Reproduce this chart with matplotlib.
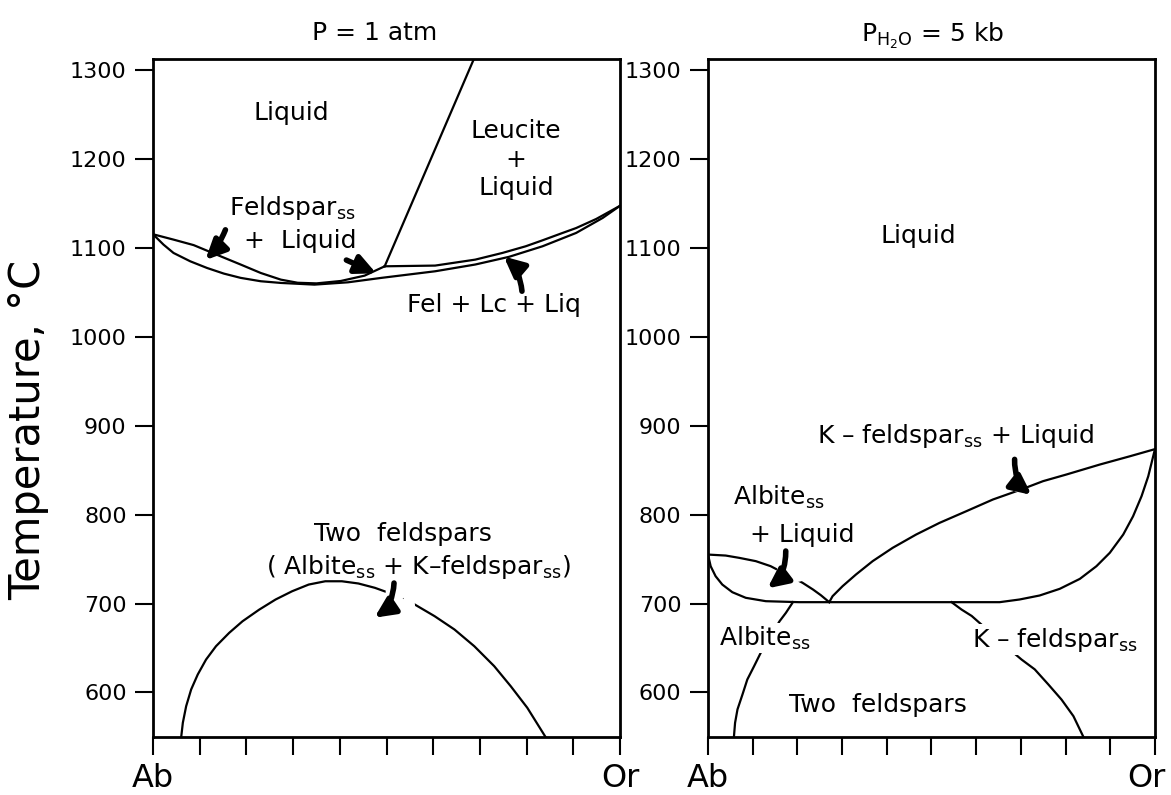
import matplotlib.pyplot as plt
import matplotlib.transforms as mtransforms

# datos (x = fracción de Or, T en °C)
# P = 1 atm
liq1_x = [0.0, 0.0438, 0.087, 0.1444, 0.1875, 0.2306, 0.2737, 0.3096, 0.35, 0.402, 0.453, 0.496]
liq1_t = [1115, 1109, 1102.8, 1090.3, 1081, 1071.5, 1064, 1060.5, 1059.8, 1062.5, 1068.5, 1079]
sol1_x = [0.0, 0.0223, 0.0438, 0.0797, 0.1157, 0.1516, 0.1875, 0.2306, 0.2737, 0.3455, 0.4174,
          0.4892, 0.604, 0.69, 0.762, 0.834, 0.906, 0.963, 1.0]
sol1_t = [1115, 1103.4, 1094, 1084.6, 1077.1, 1070.8, 1066, 1062.2, 1060.3, 1058.4, 1061,
          1066, 1073.4, 1081, 1089.6, 1101.5, 1116.5, 1133.4, 1147]
lc_x = [0.496, 0.604, 0.69, 0.748, 0.798, 0.834, 0.877, 0.906, 0.949, 1.0]
lc_t = [1079, 1079.8, 1086.5, 1094, 1101.5, 1108.2, 1116.5, 1122, 1132.2, 1147]
lcout_x = [0.496, 0.687]
lcout_t = [1079, 1312]
solv1_x = [0.0603, 0.0638, 0.0709, 0.0816, 0.0957, 0.1135, 0.1348, 0.163, 0.1915, 0.227, 0.2624,
           0.2979, 0.3333, 0.3688, 0.4043, 0.4397, 0.4752, 0.5248, 0.5603, 0.6028, 0.6454, 0.6879,
           0.7305, 0.766, 0.8014, 0.8404]
solv1_t = [550, 566, 584.6, 603.4, 620.2, 637, 652, 667, 680, 693, 704.5,
           713.8, 721.3, 725, 725, 722.5, 717.6, 708.2, 698.9, 685.8, 670.8, 652,
           629.6, 607, 582.8, 550]

# P H2O = 5 kb
liqab_x = [0.0, 0.0396, 0.07, 0.107, 0.14, 0.19, 0.2115, 0.235, 0.2526, 0.2713]
liqab_t = [755, 753.9, 751.3, 747.6, 742, 728.9, 723.3, 715.7, 709.3, 701.5]
liqor_x = [0.2713, 0.2787, 0.3012, 0.3311, 0.3684, 0.4133, 0.4656, 0.5179, 0.5778, 0.6375,
           0.7, 0.7496, 0.802, 0.8767, 0.944, 1.0]
liqor_t = [701.5, 708.2, 719.5, 732.6, 747.6, 762.6, 777.5, 790.6, 803.7, 816.9,
           828, 837.5, 845, 856.2, 865.5, 873.5]
sol2_x = [0.0, 0.006, 0.017, 0.032, 0.0545, 0.0845, 0.1294, 0.204, 0.6525, 0.697, 0.742, 0.787,
          0.832, 0.869, 0.899, 0.929, 0.951, 0.970, 0.985, 1.0]
sol2_t = [755, 741.9, 730.7, 721.3, 712.7, 706.4, 702.6, 701.5, 701.5, 704.5, 709, 716.5,
          727.7, 741.9, 757, 777.5, 798, 820.6, 843, 873.5]
solvab_x = [0.19, 0.1743, 0.16, 0.118, 0.1032, 0.088, 0.0772, 0.066, 0.0606, 0.058]
solvab_t = [701.5, 689.5, 680, 644.6, 629.6, 614.6, 597.8, 581, 565.9, 550]
solvor_x = [0.545, 0.567, 0.59, 0.675, 0.7016, 0.731, 0.7615, 0.791, 0.8176, 0.84]
solvor_t = [701.5, 693.3, 686, 648.3, 637, 626, 609, 592, 573.4, 550]

yticks = [600, 700, 800, 900, 1000, 1100, 1200, 1300]
xticks = [i / 10 for i in range(11)]
xlabels = ['Ab'] + [''] * 9 + ['Or']

ss = r'$_{\mathrm{ss}}$'

fig = plt.figure(figsize=(11.71, 7.95), dpi=100)
ax1 = fig.add_axes([0.1307, 0.073, 0.3988, 0.8528])
ax2 = fig.add_axes([0.6046, 0.073, 0.3817, 0.8528])

for ax in (ax1, ax2):
    ax.set_xlim(0, 1)
    ax.set_ylim(550, 1312)
    ax.set_yticks(yticks)
    ax.set_xticks(xticks)
    ax.set_xticklabels(xlabels)
    ax.tick_params(axis='both', direction='out', length=13, width=1.5, pad=6)
    ax.tick_params(axis='y', labelsize=16)
    ax.tick_params(axis='x', labelsize=23)
    for s in ax.spines.values():
        s.set_linewidth(2)

# el "Or" de la derecha un poco hacia dentro para que no se corte
lab = ax2.get_xticklabels()[-1]
lab.set_transform(lab.get_transform() + mtransforms.ScaledTranslation(-6 / 72, 0, fig.dpi_scale_trans))

kw = dict(color='k', lw=1.6, zorder=2)
txt = dict(fontsize=18, ha='center', va='center', zorder=5)
box = dict(facecolor='white', edgecolor='none', pad=1)


def flecha(ax, tail, tip, rad):
    # primero una flecha blanca ancha (corta las líneas), luego la negra encima
    for col, lw, z in (('white', 11, 3), ('k', 4, 4)):
        ax.annotate('', xy=tip, xytext=tail, zorder=z,
                    arrowprops=dict(arrowstyle='-|>,head_length=0.8,head_width=0.38',
                                    mutation_scale=15, lw=lw, color=col,
                                    connectionstyle='arc3,rad=%s' % rad,
                                    shrinkA=0, shrinkB=0))


# panel izquierdo
ax1.plot(liq1_x, liq1_t, **kw)
ax1.plot(sol1_x, sol1_t, **kw)
ax1.plot(lc_x, lc_t, **kw)
ax1.plot(lcout_x, lcout_t, **kw)
ax1.plot(solv1_x, solv1_t, **kw)
ax1.set_title('P = 1 atm', fontsize=18, pad=14, x=0.474)

ax1.text(0.297, 1251, 'Liquid', **txt)
ax1.text(0.777, 1199, 'Leucite\n+\nLiquid', linespacing=1.25, **txt)
ax1.text(0.298, 1145, 'Feldspar' + ss, **txt)
ax1.text(0.315, 1107, '+  Liquid', **txt)
ax1.text(0.73, 1036, 'Fel + Lc + Liq', **txt)
ax1.text(0.535, 778, 'Two  feldspars', **txt)
ax1.text(0.569, 741, '( Albite' + ss + ' + K–feldspar' + ss + ')', **txt)

flecha(ax1, (0.155, 1120), (0.112, 1086), -0.1)
flecha(ax1, (0.414, 1086), (0.478, 1071), 0.0)
flecha(ax1, (0.79, 1051), (0.751, 1090), 0.2)
flecha(ax1, (0.516, 723), (0.474, 684), -0.25)

# panel derecho
ax2.plot(liqab_x, liqab_t, **kw)
ax2.plot(liqor_x, liqor_t, **kw)
ax2.plot(sol2_x, sol2_t, **kw)
ax2.plot(solvab_x, solvab_t, **kw)
ax2.plot(solvor_x, solvor_t, **kw)
ax2.set_title(r'P$_{\mathrm{H_2O}}$ = 5 kb', fontsize=18, pad=12, x=0.503)

ax2.text(0.47, 1113, 'Liquid', **txt)
ax2.text(0.555, 888, 'K – feldspar' + ss + ' + Liquid', **txt)
ax2.text(0.159, 819, 'Albite' + ss, **txt)
ax2.text(0.211, 777, '+ Liquid', **txt)
ax2.text(0.128, 661, 'Albite' + ss, bbox=box, **txt)
ax2.text(0.776, 659, 'K – feldspar' + ss, bbox=box, **txt)
ax2.text(0.38, 586, 'Two  feldspars', **txt)

flecha(ax2, (0.686, 862), (0.724, 822), 0.25)
flecha(ax2, (0.174, 759), (0.133, 717), -0.25)

fig.text(0.024, 0.459, 'Temperature, °C', rotation=90, fontsize=30, ha='center', va='center')

plt.savefig('out.png', dpi=100)
